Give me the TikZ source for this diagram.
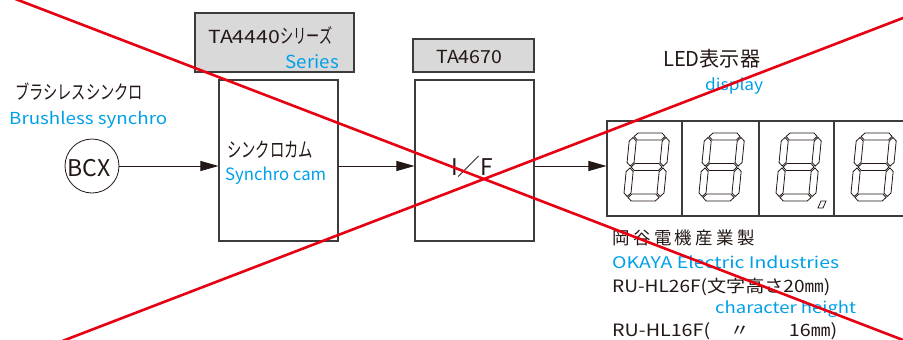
\documentclass[tikz,border=0pt]{standalone}
\usepackage{fontspec}
\setmainfont{Noto Sans CJK JP}
\usepackage{graphicx}
\usetikzlibrary{arrows.meta}
\definecolor{ink}{HTML}{231815}
\definecolor{sky}{HTML}{00A0E9}
\definecolor{redx}{HTML}{E60012}
\definecolor{boxgray}{HTML}{D9D9D9}
\definecolor{edge}{HTML}{3C3C3C}
\newcommand\fitw[3]{{\fontsize{#1}{#1}\selectfont\resizebox{#2pt}{\height}{#3}}}
\newcommand\segdigit[2]{%
 \begin{scope}[shift={(#1,#2)},xslant=0.1]
  \draw[seg] (4.5,3.5) -- (8,0) -- (32,0) -- (35.5,3.5) -- (32,7) -- (8,7) -- cycle;
  \draw[seg] (4.5,34) -- (8,30.5) -- (32,30.5) -- (35.5,34) -- (32,37.5) -- (8,37.5) -- cycle;
  \draw[seg] (4.5,64.5) -- (8,61) -- (32,61) -- (35.5,64.5) -- (32,68) -- (8,68) -- cycle;
  \draw[seg] (3.5,4.5) -- (7,8) -- (7,29.5) -- (3.5,33) -- (0,29.5) -- (0,8) -- cycle;
  \draw[seg] (3.5,35) -- (7,38.5) -- (7,60) -- (3.5,63.5) -- (0,60) -- (0,38.5) -- cycle;
  \draw[seg] (36.5,4.5) -- (40,8) -- (40,29.5) -- (36.5,33) -- (33,29.5) -- (33,8) -- cycle;
  \draw[seg] (36.5,35) -- (40,38.5) -- (40,60) -- (36.5,63.5) -- (33,60) -- (33,38.5) -- cycle;
 \end{scope}}
\begin{document}
\begin{tikzpicture}[x=1pt,y=-1pt,
 txt/.style={inner sep=0pt,anchor=base west,text=ink},
 btxt/.style={txt,text=sky},
 blk/.style={draw=edge,line width=1.1pt,fill=white,inner sep=0pt},
 hdr/.style={draw=edge,line width=1.1pt,fill=boxgray,inner sep=0pt},
 arr/.style={draw=ink,line width=0.9pt,-{Triangle[length=18pt,width=10pt]}},
 seg/.style={draw=ink,line width=0.8pt,line join=miter},
 divline/.style={draw=edge,line width=1.1pt},
 redline/.style={draw=redx,line width=2.6pt}]
\useasboundingbox (0,0) rectangle (903,340);
\clip (0,0) rectangle (903,340);
\fill[white] (0,0) rectangle (903,340);

% blocks
\node[hdr,minimum width=159pt,minimum height=59pt] (hdrA) at (274.5,42.5) {};
\node[blk,minimum width=119pt,minimum height=161pt] (cam) at (278.5,160.5) {};
\node[hdr,minimum width=121pt,minimum height=33pt] (hdrB) at (473.5,55.5) {};
\node[blk,minimum width=119pt,minimum height=161pt] (ifb) at (474.5,160.5) {};
\node[draw=ink,line width=0.8pt,circle,minimum size=54pt,inner sep=0pt] (bcx) at (92,166) {};
\node[blk,minimum width=313pt,minimum height=95pt] (disp) at (763.5,168.5) {};
\foreach \xx in {682,759,834} \draw[divline] (\xx,121) -- (\xx,216);

% digits
\segdigit{630}{133}
\segdigit{705}{133}
\segdigit{782}{133}
\segdigit{857}{133}
\draw[seg] (821,201) -- (826,201) -- (823,208) -- (818,208) -- cycle;

% connectors
\draw[arr] (bcx.east) -- (bcx.east -| cam.west);
\draw[arr] (bcx.east -| cam.east) -- (bcx.east -| ifb.west);
\draw[arr] (bcx.east -| ifb.east) -- (bcx.east -| disp.west);

% texts
\node[txt] (t1) at (15,99.5) {\fitw{19.5}{128}{ブラシレスシンクロ}};
\node[btxt] (t2) at (9,124) {\fitw{16.5}{158}{Brushless synchro}};
\node[txt] (bcxlabel) at (67,176) {\fitw{23}{43}{BCX}};
\node[txt] (t3) at (208,43) {\fitw{18}{72}{TA4440}\fitw{20}{52}{シリーズ}};
\node[btxt,anchor=base east] (t4) at (339,68) {\fitw{18}{53}{Series}};
\node[txt] (t5) at (227,157) {\fitw{20.5}{86}{シンクロカム}};
\node[btxt] (t6) at (225,180) {\fitw{17}{101}{Synchro cam}};
\node[txt] (t7) at (436,63) {\fitw{18}{66}{TA4670}};
\node[txt] (t8) at (451,175.5) {\fitw{23}{42}{I／F}};
\node[txt] (t9) at (663,66.5) {\fitw{20.5}{97}{LED表示器}};
\node[btxt] (t10) at (705,90.5) {\fitw{16}{58}{display}};
\node[txt] (t11) at (612,244) {\fitw{17.5}{143}{岡\hspace{3.5pt}谷\hspace{3.5pt}電\hspace{3.5pt}機\hspace{3.5pt}産\hspace{3.5pt}業\hspace{3.5pt}製}};
\node[btxt] (t12) at (612,268.3) {\fitw{16}{227}{OKAYA Electric Industries}};
\node[txt] (t13) at (612,292.7) {\fitw{17}{218}{RU-HL26F(文字高さ20㎜)}};
\node[btxt] (t14) at (715,313.3) {\fitw{16}{141}{character height}};
\node[txt] (t15) at (612,336) {\fitw{17}{225}{RU-HL16F(　〃　　16㎜)}};

% red cross
\coordinate (ra1) at (15.4,-1);
\coordinate (ra2) at (905.6,341);
\coordinate (rb1) at (62.4,341);
\coordinate (rb2) at (905.6,17);
\draw[redline] (ra1) -- (ra2);
\draw[redline] (rb1) -- (rb2);
\end{tikzpicture}
\end{document}
